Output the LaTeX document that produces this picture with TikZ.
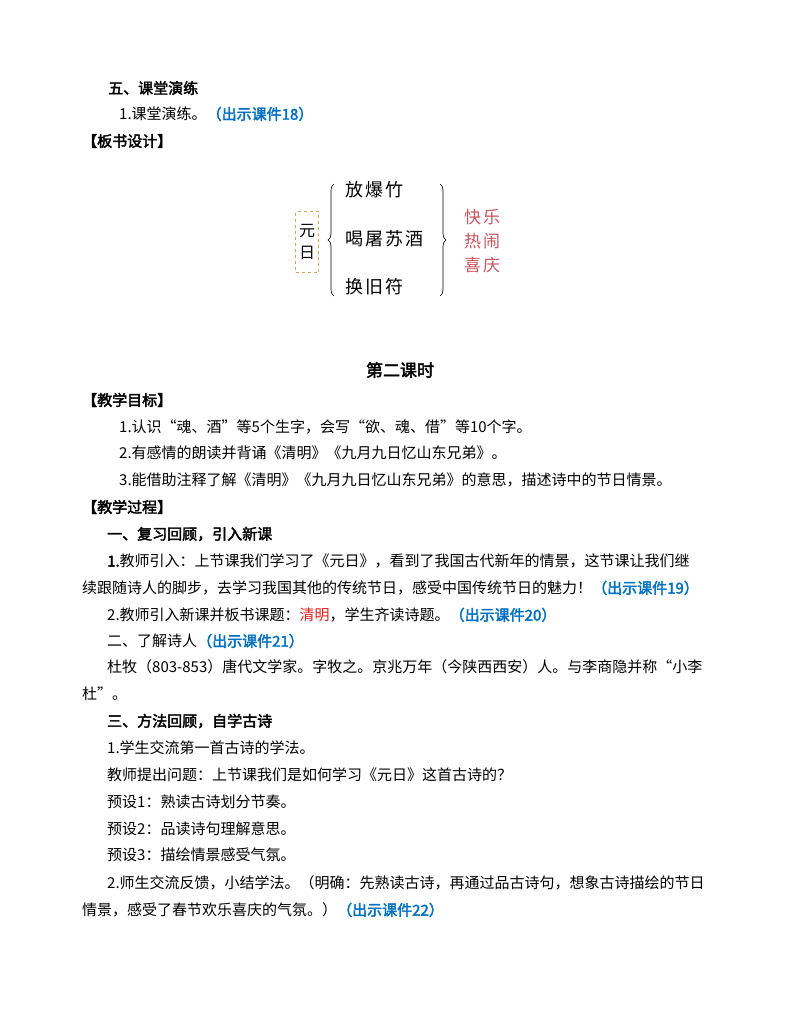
\documentclass[tikz,border=0pt]{standalone}
\usepackage{fontspec}
\setmainfont{Noto Sans CJK SC}[AutoFakeBold=2.5]
\newfontfamily\boardfont{Noto Sans CJK SC}[LetterSpace=12]
\usetikzlibrary{decorations.pathreplacing}
\definecolor{cblue}{RGB}{0,112,192}
\definecolor{cred}{RGB}{230,30,30}
\definecolor{cpink}{RGB}{200,85,95}
\definecolor{cbox}{RGB}{200,170,90}
\begin{document}
\begin{tikzpicture}[x=1pt,y=-1pt,
  t/.style={anchor=west,inner sep=0pt,font=\fontsize{15}{16}\selectfont},
  bd/.style={t,font=\fontsize{15}{16}\selectfont\bfseries},
  bv/.style={inner sep=0pt,font=\boardfont\fontsize{18}{18}\selectfont}]
\useasboundingbox[fill=white] (0,0) rectangle (800,1035);
\newcommand{\kj}[1]{\textcolor{cblue}{\bfseries （出示课件#1）}}
\node[bd] (h5) at (108,88) {五、课堂演练};
\node[t] (l1) at (119,114) {1.课堂演练。\kj{18}};
\node[bd] (bs) at (82,141) {【板书设计】};
% board
\node[draw=cbox,dashed,line width=0.6pt,minimum width=23pt,minimum height=61pt,inner sep=0pt,align=center,font=\fontsize{16}{22}\selectfont] (yr) at (307,242) {元\\日};
\node[bv,anchor=west] (a1) at (345,190) {放爆竹};
\node[bv,anchor=west] (a2) at (345,239) {喝屠苏酒};
\node[bv,anchor=west] (a3) at (345,287) {换旧符};
\coordinate (lb1) at (334,296);
\coordinate (lb2) at (334,184);
\coordinate (rb1) at (440,184);
\coordinate (rb2) at (440,296);
\draw[decorate,decoration={brace,amplitude=6pt},line width=0.6pt] (lb1) -- (lb2);
\draw[decorate,decoration={brace,amplitude=6pt},line width=0.6pt] (rb1) -- (rb2);
\node[inner sep=0pt,text=cpink,align=left,font=\boardfont\fontsize{17}{24}\selectfont,anchor=west] (kl) at (464,241) {快乐\\热闹\\喜庆};
% lesson 2
\node[inner sep=0pt,font=\fontsize{17}{18}\selectfont\bfseries] (title) at (400,370) {第二课时};
\node[bd] (mb) at (82,400) {【教学目标】};
\node[t] (m1) at (119,427) {1.认识“魂、酒”等5个生字，会写“欲、魂、借”等10个字。};
\node[t] (m2) at (119,453) {2.有感情的朗读并背诵《清明》《九月九日忆山东兄弟》。};
\node[t] (m3) at (119,480) {3.能借助注释了解《清明》《九月九日忆山东兄弟》的意思，描述诗中的节日情景。};
\node[bd] (gc) at (82,507) {【教学过程】};
\node[bd] (s1) at (107,534) {一、复习回顾，引入新课};
\node[t] (p1) at (107,561) {\textbf{1.}教师引入：上节课我们学习了《元日》，看到了我国古代新年的情景，这节课让我们继};
\node[t] (p1b) at (82,588) {续跟随诗人的脚步，去学习我国其他的传统节日，感受中国传统节日的魅力！\kj{19}};
\node[t] (p2) at (107,615) {2.教师引入新课并板书课题：\textcolor{cred}{清明}，学生齐读诗题。\kj{20}};
\node[t] (s2) at (107,641) {二、了解诗人\kj{21}};
\node[t] (p3) at (107,667) {杜牧（803-853）唐代文学家。字牧之。京兆万年（今陕西西安）人。与李商隐并称“小李};
\node[t] (p3b) at (82,694) {杜”。};
\node[bd] (s3) at (107,721) {三、方法回顾，自学古诗};
\node[t] (q1) at (107,748) {1.学生交流第一首古诗的学法。};
\node[t] (q2) at (107,775) {教师提出问题：上节课我们是如何学习《元日》这首古诗的？};
\node[t] (q3) at (107,802) {预设1：熟读古诗划分节奏。};
\node[t] (q4) at (107,829) {预设2：品读诗句理解意思。};
\node[t] (q5) at (107,855) {预设3：描绘情景感受气氛。};
\node[t] (q6) at (107,883) {2.师生交流反馈，小结学法。（明确：先熟读古诗，再通过品古诗句，想象古诗描绘的节日};
\node[t] (q6b) at (82,910) {情景，感受了春节欢乐喜庆的气氛。）\kj{22}};
\end{tikzpicture}
\end{document}
